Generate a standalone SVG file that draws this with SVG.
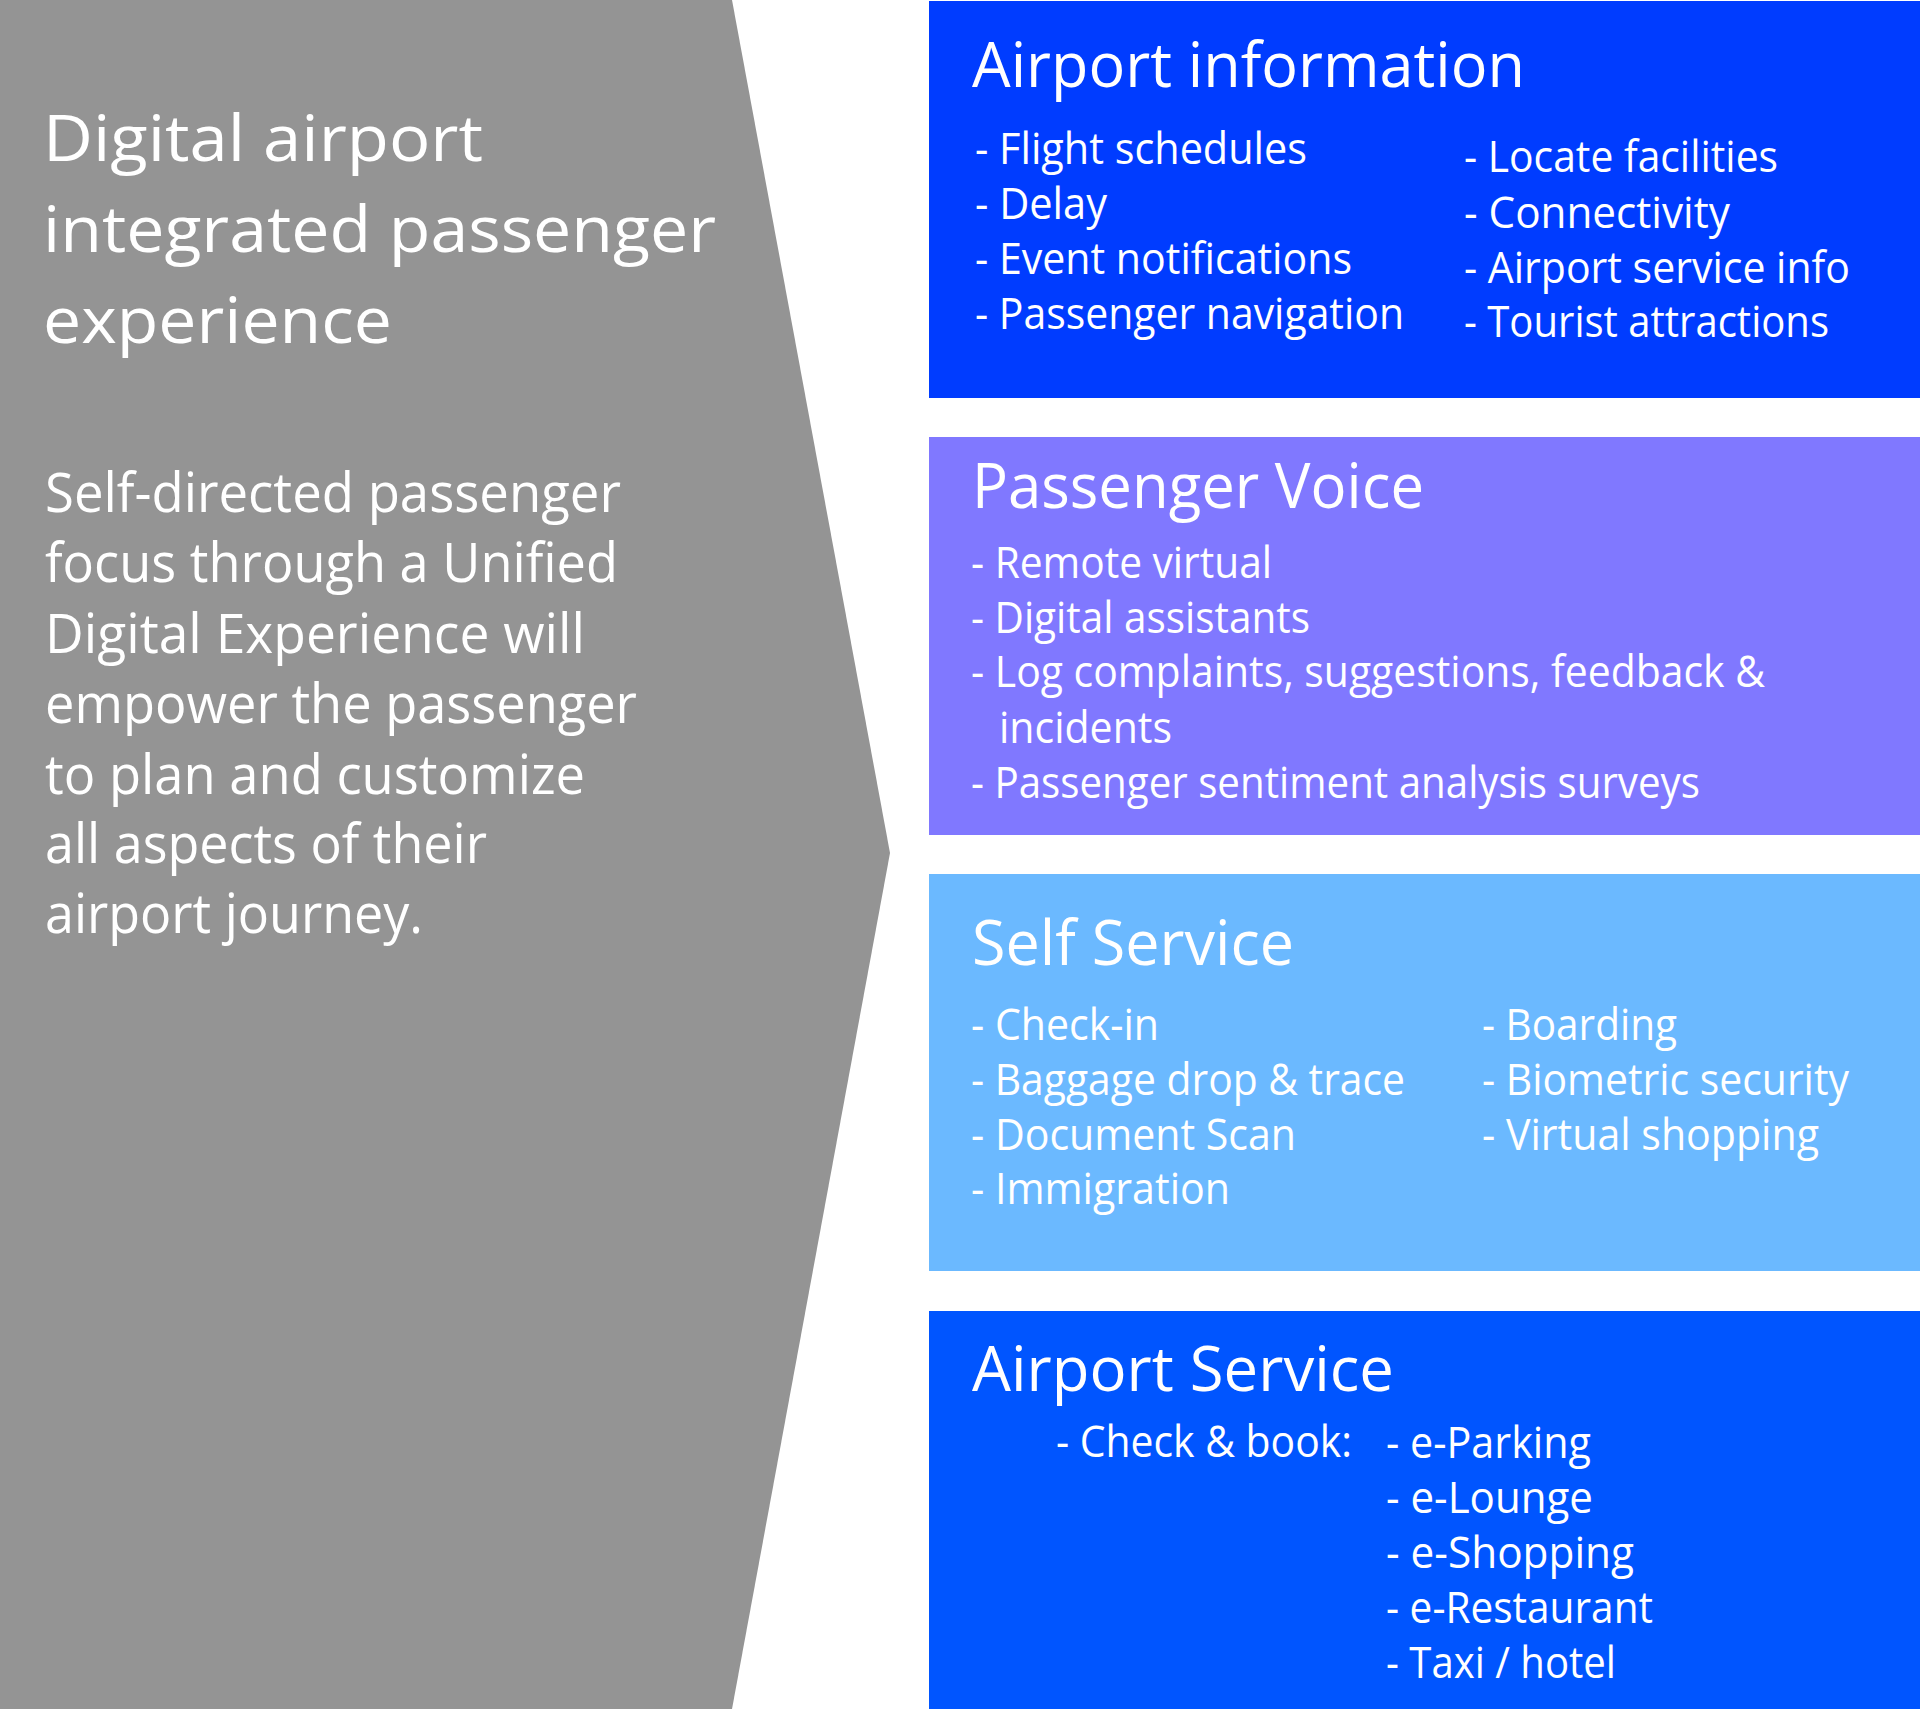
<svg xmlns="http://www.w3.org/2000/svg" width="1920" height="1709" viewBox="0 0 1920 1709">
<style>
text{font-family:"Open Sans","Liberation Sans",sans-serif;fill:#ffffff}
.title{font-size:64px}
.body{font-size:54px}
.head{font-size:63px}
.item{font-size:43px}
</style>
<rect x="0" y="0" width="1920" height="1709" fill="#ffffff"/>
<g id="summary">
<polygon points="0,0 732,0 890,853 732,1709 0,1709" fill="#949494"/>
<text class="title" x="43" y="161" textLength="440" lengthAdjust="spacingAndGlyphs">Digital airport</text>
<text class="title" x="43" y="252" textLength="673" lengthAdjust="spacingAndGlyphs">integrated passenger</text>
<text class="title" x="43" y="343" textLength="349" lengthAdjust="spacingAndGlyphs">experience</text>
<text class="body" x="45" y="512" textLength="576" lengthAdjust="spacingAndGlyphs">Self-directed passenger</text>
<text class="body" x="45" y="582" textLength="573" lengthAdjust="spacingAndGlyphs">focus through a Unified</text>
<text class="body" x="45" y="653" textLength="540" lengthAdjust="spacingAndGlyphs">Digital Experience will</text>
<text class="body" x="45" y="723" textLength="592" lengthAdjust="spacingAndGlyphs">empower the passenger</text>
<text class="body" x="45" y="794" textLength="540" lengthAdjust="spacingAndGlyphs">to plan and customize</text>
<text class="body" x="45" y="863" textLength="442" lengthAdjust="spacingAndGlyphs">all aspects of their</text>
<text class="body" x="45" y="933" textLength="378" lengthAdjust="spacingAndGlyphs">airport journey.</text>
</g>
<g id="airport-information">
<rect x="929" y="1" width="991" height="397" fill="#003cff"/>
<text class="head" x="972" y="87" textLength="553" lengthAdjust="spacingAndGlyphs">Airport information</text>
<text class="item" x="975" y="164" textLength="332" lengthAdjust="spacingAndGlyphs">- Flight schedules</text>
<text class="item" x="975" y="219" textLength="132" lengthAdjust="spacingAndGlyphs">- Delay</text>
<text class="item" x="975" y="274" textLength="377" lengthAdjust="spacingAndGlyphs">- Event notifications</text>
<text class="item" x="975" y="329" textLength="429" lengthAdjust="spacingAndGlyphs">- Passenger navigation</text>
<text class="item" x="1464" y="172" textLength="314" lengthAdjust="spacingAndGlyphs">- Locate facilities</text>
<text class="item" x="1464" y="228" textLength="266" lengthAdjust="spacingAndGlyphs">- Connectivity</text>
<text class="item" x="1464" y="283" textLength="386" lengthAdjust="spacingAndGlyphs">- Airport service info</text>
<text class="item" x="1464" y="337" textLength="365" lengthAdjust="spacingAndGlyphs">- Tourist attractions</text>
</g>
<g id="passenger-voice">
<rect x="929" y="437" width="991" height="398" fill="#8078ff"/>
<text class="head" x="972" y="508" textLength="452" lengthAdjust="spacingAndGlyphs">Passenger Voice</text>
<text class="item" x="971" y="578" textLength="301" lengthAdjust="spacingAndGlyphs">- Remote virtual</text>
<text class="item" x="971" y="633" textLength="339" lengthAdjust="spacingAndGlyphs">- Digital assistants</text>
<text class="item" x="971" y="687" textLength="794" lengthAdjust="spacingAndGlyphs">- Log complaints, suggestions, feedback &amp;</text>
<text class="item" x="999" y="743" textLength="173" lengthAdjust="spacingAndGlyphs">incidents</text>
<text class="item" x="971" y="798" textLength="729" lengthAdjust="spacingAndGlyphs">- Passenger sentiment analysis surveys</text>
</g>
<g id="self-service">
<rect x="929" y="874" width="991" height="397" fill="#6bb9ff"/>
<text class="head" x="972" y="965" textLength="322" lengthAdjust="spacingAndGlyphs">Self Service</text>
<text class="item" x="971" y="1040" textLength="188" lengthAdjust="spacingAndGlyphs">- Check-in</text>
<text class="item" x="971" y="1095" textLength="434" lengthAdjust="spacingAndGlyphs">- Baggage drop &amp; trace</text>
<text class="item" x="971" y="1150" textLength="325" lengthAdjust="spacingAndGlyphs">- Document Scan</text>
<text class="item" x="971" y="1204" textLength="259" lengthAdjust="spacingAndGlyphs">- Immigration</text>
<text class="item" x="1482" y="1040" textLength="195" lengthAdjust="spacingAndGlyphs">- Boarding</text>
<text class="item" x="1482" y="1095" textLength="367" lengthAdjust="spacingAndGlyphs">- Biometric security</text>
<text class="item" x="1482" y="1150" textLength="337" lengthAdjust="spacingAndGlyphs">- Virtual shopping</text>
</g>
<g id="airport-service">
<rect x="929" y="1311" width="991" height="398" fill="#0055ff"/>
<text class="head" x="972" y="1391" textLength="422" lengthAdjust="spacingAndGlyphs">Airport Service</text>
<text class="item" x="1056" y="1457" textLength="296" lengthAdjust="spacingAndGlyphs">- Check &amp; book:</text>
<text class="item" x="1386" y="1458" textLength="205" lengthAdjust="spacingAndGlyphs">- e-Parking</text>
<text class="item" x="1386" y="1513" textLength="207" lengthAdjust="spacingAndGlyphs">- e-Lounge</text>
<text class="item" x="1386" y="1568" textLength="248" lengthAdjust="spacingAndGlyphs">- e-Shopping</text>
<text class="item" x="1386" y="1623" textLength="267" lengthAdjust="spacingAndGlyphs">- e-Restaurant</text>
<text class="item" x="1386" y="1678" textLength="230" lengthAdjust="spacingAndGlyphs">- Taxi / hotel</text>
</g>
<g id="connectors"></g>
</svg>
